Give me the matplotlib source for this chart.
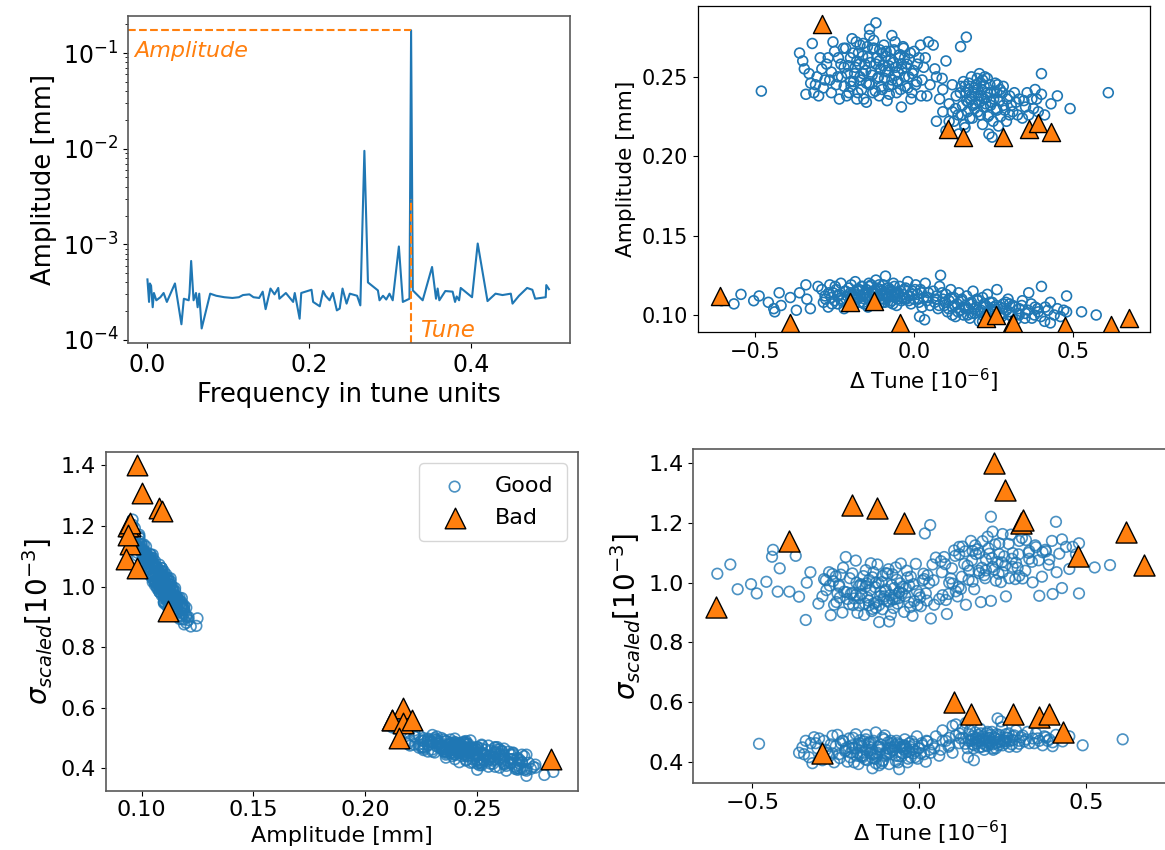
import numpy as np
import matplotlib.pyplot as plt

# ---- spectrum (top left) ----
freq = [0.000, 0.002, 0.003, 0.0045, 0.0065, 0.008, 0.011, 0.016, 0.020, 0.024,
        0.034, 0.042, 0.045, 0.051, 0.052, 0.054, 0.057, 0.060, 0.062, 0.064,
        0.067, 0.0775, 0.085, 0.095, 0.105, 0.113, 0.118, 0.126, 0.131, 0.138,
        0.1424, 0.146, 0.152, 0.157, 0.1616, 0.163, 0.171, 0.180, 0.182, 0.188,
        0.190, 0.2027, 0.2047, 0.2129, 0.217, 0.220, 0.225, 0.229, 0.234, 0.2375,
        0.241, 0.246, 0.250, 0.259, 0.263, 0.268, 0.2724, 0.2847, 0.2867, 0.291,
        0.295, 0.299, 0.303, 0.3106, 0.3155, 0.3237, 0.3257, 0.3278, 0.340, 0.3516,
        0.3565, 0.3585, 0.3606, 0.368, 0.377, 0.380, 0.382, 0.385, 0.387, 0.401,
        0.408, 0.4201, 0.430, 0.4386, 0.4489, 0.451, 0.459, 0.469, 0.4755, 0.479,
        0.492, 0.4927, 0.496]
spec = [4.3, 2.5, 3.9, 3.7, 2.2, 3.1, 2.6, 2.8, 3.1, 2.5,
        3.9, 1.46, 2.7, 2.6, 3.1, 6.7, 2.6, 3.1, 2.2, 3.05,
        1.32, 3.05, 2.9, 2.8, 2.75, 2.8, 2.95, 3.0, 2.8, 2.75,
        3.2, 2.1, 3.45, 3.0, 3.5, 2.7, 3.1, 2.5, 3.1, 1.67,
        3.1, 3.35, 2.5, 2.25, 3.25, 2.9, 2.6, 3.1, 2.04, 2.13,
        3.45, 2.4, 3.05, 2.9, 2.3, 95.0, 4.0, 3.3, 2.6, 2.9,
        2.65, 3.05, 2.6, 9.5, 2.5, 2.7, 1730.0, 3.3, 2.6, 5.8,
        2.7, 3.45, 2.6, 3.25, 3.2, 2.5, 2.85, 2.6, 3.5, 2.8,
        10.2, 2.55, 3.05, 2.95, 3.05, 2.4, 2.9, 3.5, 3.35, 2.7,
        2.8, 3.75, 3.4]  # units of 1e-4 mm

# ---- good BPMs: cluster at large amplitude, left part ----
a1_tune = [-0.48, -0.36, -0.35, -0.34, -0.33, -0.32, -0.31, -0.30, -0.29, -0.28,
           -0.27, -0.26, -0.25, -0.24, -0.235, -0.23, -0.22, -0.215, -0.21, -0.205,
           -0.20, -0.195, -0.19, -0.185, -0.18, -0.175, -0.17, -0.165, -0.16, -0.155,
           -0.15, -0.145, -0.14, -0.135, -0.13, -0.125, -0.12, -0.115, -0.11, -0.105,
           -0.10, -0.095, -0.09, -0.085, -0.08, -0.075, -0.07, -0.065, -0.06, -0.055,
           -0.05, -0.045, -0.04, -0.035, -0.03, -0.025, -0.02, -0.015, -0.01, -0.005,
           0.00, 0.005, 0.01, 0.02, 0.025, 0.035, 0.04, 0.05, 0.06, 0.065,
           0.07, -0.22, -0.18, -0.14, -0.12, -0.10, -0.08, -0.06, -0.04, -0.16,
           -0.20, -0.26, -0.13, -0.09, -0.05, -0.11, -0.17, -0.03, -0.07, -0.15,
           0.10, 0.146, 0.164, 0.088, 0.045]
a1_amp = [0.241, 0.265, 0.260, 0.239, 0.252, 0.271, 0.245, 0.238, 0.255, 0.248,
          0.262, 0.240, 0.266, 0.250, 0.236, 0.258, 0.244, 0.268, 0.252, 0.240,
          0.262, 0.274, 0.247, 0.256, 0.236, 0.265, 0.250, 0.242, 0.271, 0.258,
          0.246, 0.262, 0.276, 0.253, 0.240, 0.268, 0.284, 0.249, 0.260, 0.255,
          0.242, 0.270, 0.263, 0.235, 0.257, 0.266, 0.248, 0.259, 0.272, 0.240,
          0.253, 0.264, 0.231, 0.269, 0.250, 0.256, 0.243, 0.261, 0.236, 0.252,
          0.266, 0.245, 0.258, 0.270, 0.248, 0.262, 0.238, 0.245, 0.270, 0.255,
          0.250, 0.256, 0.260, 0.245, 0.258, 0.265, 0.244, 0.251, 0.258, 0.252,
          0.247, 0.253, 0.268, 0.254, 0.247, 0.238, 0.270, 0.262, 0.276, 0.234,
          0.260, 0.269, 0.275, 0.249, 0.272]
a1_sigma = [0.460, 0.430, 0.448, 0.470, 0.415, 0.395, 0.462, 0.478, 0.405, 0.440,
            0.418, 0.487, 0.452, 0.425, 0.462, 0.470, 0.445, 0.400, 0.478, 0.430,
            0.445, 0.398, 0.492, 0.430, 0.455, 0.418, 0.415, 0.468, 0.440, 0.405,
            0.450, 0.465, 0.412, 0.425, 0.498, 0.430, 0.388, 0.458, 0.402, 0.475,
            0.420, 0.445, 0.392, 0.470, 0.438, 0.450, 0.420, 0.462, 0.375, 0.448,
            0.428, 0.455, 0.452, 0.398, 0.462, 0.415, 0.440, 0.458, 0.435, 0.410,
            0.445, 0.428, 0.455, 0.400, 0.468, 0.430, 0.458, 0.485, 0.420, 0.440,
            0.470, 0.438, 0.462, 0.425, 0.450, 0.430, 0.462, 0.418, 0.445, 0.475,
            0.455, 0.428, 0.395, 0.442, 0.452, 0.480, 0.420, 0.435, 0.402, 0.465,
            0.430, 0.415, 0.405, 0.450, 0.445]
# more points of the same core: (tune, amplitude, sigma)
a1_core = [(-0.245, 0.245, 0.490), (-0.238, 0.262, 0.412), (-0.228, 0.250, 0.470),
           (-0.222, 0.268, 0.435), (-0.212, 0.238, 0.450), (-0.207, 0.257, 0.415),
           (-0.198, 0.244, 0.480), (-0.192, 0.265, 0.445), (-0.187, 0.252, 0.420),
           (-0.182, 0.272, 0.392), (-0.177, 0.240, 0.472), (-0.172, 0.258, 0.452),
           (-0.168, 0.248, 0.430), (-0.162, 0.263, 0.408), (-0.158, 0.236, 0.490),
           (-0.152, 0.254, 0.462), (-0.147, 0.269, 0.428), (-0.142, 0.246, 0.440),
           (-0.137, 0.259, 0.470), (-0.132, 0.251, 0.410), (-0.127, 0.273, 0.418),
           (-0.122, 0.241, 0.452), (-0.117, 0.262, 0.440), (-0.112, 0.250, 0.395),
           (-0.108, 0.267, 0.405), (-0.103, 0.244, 0.488), (-0.098, 0.257, 0.425),
           (-0.093, 0.249, 0.465), (-0.088, 0.266, 0.430), (-0.083, 0.253, 0.448),
           (-0.078, 0.239, 0.440), (-0.073, 0.261, 0.455), (-0.068, 0.245, 0.470),
           (-0.063, 0.267, 0.398), (-0.058, 0.256, 0.458), (-0.053, 0.247, 0.418),
           (-0.048, 0.262, 0.442), (-0.043, 0.242, 0.475), (-0.038, 0.255, 0.432),
           (-0.033, 0.268, 0.410), (-0.028, 0.244, 0.450), (-0.022, 0.258, 0.468),
           (-0.017, 0.250, 0.428), (-0.012, 0.265, 0.415), (-0.007, 0.240, 0.485),
           (-0.002, 0.254, 0.445), (0.008, 0.247, 0.462), (0.015, 0.262, 0.425),
           (0.022, 0.238, 0.470), (0.030, 0.256, 0.440), (-0.265, 0.248, 0.458),
           (-0.275, 0.258, 0.430), (-0.285, 0.243, 0.470), (-0.295, 0.262, 0.415),
           (-0.305, 0.250, 0.445), (-0.315, 0.240, 0.482), (-0.325, 0.246, 0.462),
           (-0.345, 0.255, 0.425), (-0.255, 0.272, 0.398), (-0.140, 0.280, 0.378)]

# ---- good BPMs: cluster at large amplitude, right part ----
a2_tune = [0.07, 0.08, 0.09, 0.10, 0.11, 0.12, 0.125, 0.13, 0.14, 0.145,
           0.15, 0.155, 0.16, 0.165, 0.17, 0.175, 0.18, 0.185, 0.19, 0.195,
           0.20, 0.205, 0.21, 0.215, 0.22, 0.225, 0.23, 0.235, 0.24, 0.245,
           0.25, 0.255, 0.26, 0.265, 0.27, 0.28, 0.29, 0.30, 0.31, 0.32,
           0.33, 0.34, 0.35, 0.36, 0.37, 0.38, 0.39, 0.40, 0.40, 0.41,
           0.43, 0.45, 0.49, 0.61, 0.18, 0.20, 0.21, 0.22, 0.19, 0.23,
           0.17, 0.24, 0.26, 0.16, 0.205, 0.215, 0.28, 0.30, 0.12, 0.09]
a2_amp = [0.222, 0.236, 0.228, 0.216, 0.233, 0.245, 0.222, 0.230, 0.214, 0.240,
          0.226, 0.247, 0.218, 0.235, 0.242, 0.224, 0.250, 0.232, 0.240, 0.245,
          0.228, 0.252, 0.238, 0.220, 0.244, 0.233, 0.249, 0.226, 0.240, 0.212,
          0.236, 0.246, 0.229, 0.219, 0.242, 0.232, 0.222, 0.238, 0.228, 0.234,
          0.236, 0.224, 0.231, 0.226, 0.236, 0.242, 0.228, 0.252, 0.239, 0.226,
          0.233, 0.238, 0.230, 0.240, 0.238, 0.242, 0.246, 0.236, 0.230, 0.240,
          0.234, 0.232, 0.240, 0.244, 0.234, 0.248, 0.244, 0.226, 0.228, 0.242]
a2_sigma = [0.505, 0.470, 0.455, 0.520, 0.488, 0.462, 0.478, 0.510, 0.530, 0.445,
            0.492, 0.470, 0.485, 0.455, 0.482, 0.468, 0.448, 0.495, 0.462, 0.440,
            0.478, 0.452, 0.470, 0.490, 0.458, 0.482, 0.445, 0.465, 0.475, 0.535,
            0.455, 0.468, 0.492, 0.480, 0.450, 0.472, 0.505, 0.460, 0.488, 0.475,
            0.462, 0.478, 0.495, 0.470, 0.455, 0.482, 0.475, 0.465, 0.452, 0.490,
            0.468, 0.485, 0.455, 0.475, 0.470, 0.455, 0.480, 0.445, 0.485, 0.462,
            0.475, 0.490, 0.470, 0.458, 0.500, 0.465, 0.485, 0.470, 0.495, 0.480]
a2_core = [(0.132, 0.238, 0.480), (0.138, 0.226, 0.460), (0.148, 0.244, 0.470),
           (0.152, 0.232, 0.505), (0.158, 0.220, 0.475), (0.163, 0.240, 0.445),
           (0.168, 0.228, 0.498), (0.172, 0.246, 0.462), (0.178, 0.236, 0.490),
           (0.183, 0.224, 0.510), (0.188, 0.243, 0.450), (0.193, 0.233, 0.472),
           (0.198, 0.249, 0.468), (0.202, 0.238, 0.495), (0.208, 0.226, 0.480),
           (0.212, 0.242, 0.460), (0.218, 0.231, 0.500), (0.222, 0.250, 0.440),
           (0.228, 0.237, 0.478), (0.232, 0.225, 0.492), (0.238, 0.245, 0.455),
           (0.242, 0.234, 0.468), (0.248, 0.222, 0.515), (0.252, 0.241, 0.472),
           (0.258, 0.230, 0.462), (0.262, 0.245, 0.480), (0.268, 0.235, 0.495),
           (0.272, 0.225, 0.470), (0.278, 0.240, 0.458), (0.285, 0.229, 0.488),
           (0.292, 0.236, 0.450), (0.305, 0.232, 0.482), (0.315, 0.240, 0.468),
           (0.325, 0.226, 0.500), (0.345, 0.235, 0.462), (0.355, 0.240, 0.478),
           (0.375, 0.230, 0.485), (0.385, 0.236, 0.470), (0.110, 0.222, 0.525),
           (0.235, 0.214, 0.545)]

# ---- good BPMs: cluster at small amplitude ----
b_tune = [-0.605, -0.566, -0.544, -0.504, -0.487, -0.458, -0.441, -0.438, -0.424, -0.418,
          -0.389, -0.370, -0.360, -0.340, -0.337, -0.326, -0.302,
          -0.29, -0.285, -0.28, -0.27, -0.265, -0.26, -0.255, -0.25, -0.245, -0.24,
          -0.235, -0.23, -0.225, -0.22, -0.215, -0.21, -0.205, -0.2, -0.195, -0.19,
          -0.185, -0.18, -0.175, -0.17, -0.165, -0.16, -0.155, -0.15, -0.145, -0.14,
          -0.135, -0.13, -0.125, -0.12, -0.115, -0.11, -0.105, -0.1, -0.095, -0.09,
          -0.085, -0.08, -0.075, -0.07, -0.065, -0.06, -0.055, -0.05, -0.045, -0.04,
          -0.035, -0.03, -0.025, -0.02, -0.015, -0.01, -0.005, 0.0, 0.005, 0.01,
          0.015, 0.02, 0.025, 0.03, 0.035, 0.04, 0.045, 0.05,
          -0.2, -0.15, -0.12, -0.1, -0.08, -0.06, -0.14, -0.18, -0.24, -0.03,
          -0.11, -0.07, -0.16, -0.19, -0.09, -0.13,
          0.06, 0.065, 0.07, 0.075, 0.08, 0.083, 0.09, 0.095, 0.1, 0.105,
          0.11, 0.115, 0.12, 0.125, 0.13, 0.135, 0.14, 0.145, 0.15, 0.155,
          0.16, 0.165, 0.17, 0.175, 0.18, 0.185, 0.19, 0.195, 0.2, 0.205,
          0.21, 0.215, 0.22, 0.225, 0.23, 0.235, 0.24, 0.245, 0.25, 0.255,
          0.26, 0.27, 0.275, 0.28, 0.29, 0.295, 0.3, 0.31, 0.32, 0.33,
          0.34, 0.35, 0.36, 0.37, 0.38, 0.39, 0.4, 0.41, 0.42, 0.428,
          0.428, 0.44, 0.45,
          0.2, 0.22, 0.25, 0.18, 0.28, 0.3, 0.16, 0.24, 0.33, 0.12,
          0.479, 0.479, 0.526, 0.572, 0.47, 0.46, 0.033, 0.017, 0.215]
b_amp = [0.109, 0.107, 0.113, 0.109, 0.112, 0.108, 0.104, 0.102, 0.114, 0.106,
         0.111, 0.103, 0.114, 0.119, 0.110, 0.104, 0.118,
         0.116, 0.108, 0.112, 0.105, 0.119, 0.111, 0.114, 0.109, 0.116, 0.107,
         0.113, 0.120, 0.110, 0.104, 0.115, 0.112, 0.117, 0.109, 0.113, 0.106,
         0.121, 0.111, 0.115, 0.108, 0.118, 0.113, 0.110, 0.116, 0.105, 0.112,
         0.119, 0.114, 0.109, 0.122, 0.111, 0.107, 0.116, 0.113, 0.110, 0.1245,
         0.117, 0.112, 0.108, 0.115, 0.120, 0.111, 0.106, 0.114, 0.118, 0.109,
         0.113, 0.116, 0.110, 0.121, 0.112, 0.107, 0.115, 0.110, 0.119, 0.113,
         0.108, 0.116, 0.105, 0.111, 0.120, 0.109, 0.114, 0.106,
         0.114, 0.111, 0.115, 0.108, 0.117, 0.113, 0.118, 0.116, 0.112, 0.110,
         0.119, 0.109, 0.108, 0.111, 0.114, 0.110,
         0.115, 0.108, 0.112, 0.104, 0.118, 0.125, 0.110, 0.106, 0.113, 0.102,
         0.109, 0.116, 0.105, 0.111, 0.099, 0.107, 0.114, 0.103, 0.110, 0.100,
         0.106, 0.112, 0.104, 0.098, 0.108, 0.115, 0.101, 0.105, 0.109, 0.096,
         0.103, 0.111, 0.099, 0.106, 0.113, 0.101, 0.104, 0.108, 0.097, 0.102,
         0.116, 0.105, 0.099, 0.107, 0.103, 0.110, 0.100, 0.106, 0.097, 0.104,
         0.109, 0.101, 0.114, 0.098, 0.105, 0.102, 0.118, 0.096, 0.103, 0.108,
         0.095, 0.100, 0.104,
         0.103, 0.107, 0.105, 0.101, 0.101, 0.107, 0.104, 0.098, 0.100, 0.100,
         0.112, 0.102, 0.102, 0.100, 0.103, 0.099, 0.097, 0.099, 0.096]
b_sigma = [1.030, 1.061, 0.978, 0.995, 0.964, 1.003, 1.087, 1.110, 0.970, 1.048,
           0.970, 1.090, 0.953, 0.875, 1.000, 1.035, 0.930,
           0.954, 1.012, 1.008, 1.035, 0.891, 1.029, 0.926, 1.021, 0.964, 0.993,
           1.027, 0.900, 0.970, 1.086, 0.945, 0.928, 0.963, 1.031, 0.947, 1.074,
           0.899, 0.989, 0.995, 0.992, 0.892, 0.987, 0.950, 0.924, 1.065, 1.018,
           0.931, 0.916, 1.061, 0.868, 0.969, 1.023, 0.954, 0.977, 1.030, 0.870,
           0.893, 1.028, 0.982, 0.955, 0.930, 0.969, 1.064, 0.986, 0.902, 0.981,
           1.017, 0.934, 1.020, 0.889, 0.938, 1.063, 0.925, 0.960, 0.921, 1.007,
           1.012, 0.964, 1.025, 0.999, 0.880, 1.061, 0.926, 1.084,
           0.966, 1.009, 0.925, 1.032, 0.943, 0.967, 0.912, 0.924, 0.988, 0.990,
           0.911, 1.051, 1.042, 0.959, 0.936, 1.000,
           0.945, 1.072, 0.958, 1.086, 0.942, 0.895, 1.000, 1.014, 0.997, 1.108,
           0.971, 0.954, 1.095, 0.979, 1.121, 1.063, 0.926, 1.057, 1.040, 1.140,
           1.004, 0.978, 1.096, 1.112, 1.032, 0.935, 1.139, 1.025, 1.041, 1.154,
           1.097, 0.939, 1.171, 1.044, 1.007, 1.069, 1.096, 1.002, 1.163, 1.088,
           0.954, 1.015, 1.161, 1.053, 1.067, 1.050, 1.140, 1.014, 1.143, 1.106,
           1.001, 1.119, 0.956, 1.102, 1.105, 1.078, 0.962, 1.204, 1.097, 0.982,
           1.145, 1.120, 1.046,
           1.077, 1.053, 1.035, 1.099, 1.099, 1.023, 1.106, 1.132, 1.080, 1.120,
           0.964, 1.132, 1.051, 1.059, 1.095, 1.120, 1.193, 1.165, 1.221]
b_core = [(-0.278, 0.110, 0.975), (-0.268, 0.114, 0.990), (-0.258, 0.107, 1.005),
          (-0.248, 0.118, 0.935), (-0.238, 0.112, 0.950), (-0.228, 0.109, 1.050),
          (-0.218, 0.115, 0.968), (-0.208, 0.106, 1.015), (-0.198, 0.119, 0.925),
          (-0.188, 0.113, 1.000), (-0.178, 0.110, 0.948), (-0.172, 0.116, 0.962),
          (-0.167, 0.112, 1.022), (-0.162, 0.118, 0.930), (-0.157, 0.107, 0.998),
          (-0.152, 0.114, 0.940), (-0.147, 0.111, 0.975), (-0.142, 0.120, 0.905),
          (-0.137, 0.109, 1.035), (-0.132, 0.115, 0.985), (-0.127, 0.113, 0.935),
          (-0.122, 0.108, 0.998), (-0.117, 0.117, 0.955), (-0.112, 0.112, 1.002),
          (-0.107, 0.110, 0.945), (-0.102, 0.115, 0.972), (-0.097, 0.119, 0.938),
          (-0.092, 0.108, 1.045), (-0.087, 0.113, 0.958), (-0.082, 0.111, 0.992),
          (-0.077, 0.116, 0.915), (-0.072, 0.112, 0.945), (-0.067, 0.107, 1.010),
          (-0.062, 0.118, 0.948), (-0.057, 0.114, 0.998), (-0.052, 0.110, 0.965),
          (-0.042, 0.115, 0.955), (-0.037, 0.111, 1.040), (-0.027, 0.117, 0.918),
          (-0.017, 0.109, 0.995), (-0.007, 0.113, 0.972), (0.003, 0.116, 0.950),
          (0.013, 0.110, 1.030), (0.023, 0.114, 0.940), (0.043, 0.111, 1.008),
          (0.068, 0.110, 1.035), (0.078, 0.106, 1.062), (0.088, 0.114, 0.962),
          (0.098, 0.108, 1.048), (0.108, 0.104, 1.090), (0.118, 0.111, 0.985),
          (0.128, 0.106, 1.020), (0.138, 0.102, 1.105), (0.148, 0.109, 1.010),
          (0.158, 0.105, 1.075), (0.168, 0.100, 1.125), (0.178, 0.107, 1.040),
          (0.188, 0.104, 1.050), (0.198, 0.110, 1.015), (0.208, 0.102, 1.115),
          (0.218, 0.105, 1.082), (0.228, 0.099, 1.128), (0.238, 0.108, 1.030),
          (0.248, 0.103, 1.068), (0.258, 0.106, 1.058), (0.268, 0.100, 1.130),
          (0.278, 0.104, 1.080), (0.288, 0.108, 1.012), (0.298, 0.102, 1.095),
          (0.308, 0.099, 1.150), (0.318, 0.105, 1.040), (0.328, 0.101, 1.100),
          (0.338, 0.106, 1.070), (0.348, 0.098, 1.125), (0.358, 0.103, 1.075),
          (0.368, 0.107, 1.020), (0.378, 0.100, 1.110), (0.388, 0.104, 1.060),
          (0.398, 0.099, 1.140), (0.412, 0.105, 1.035)]

# ---- bad BPMs ----
bad_tune = [-0.61, -0.39, -0.20, -0.125, -0.045, 0.225, 0.258, 0.305, 0.31, 0.475,
            0.62, 0.675, -0.29, 0.105, 0.155, 0.28, 0.36, 0.39, 0.43]
bad_amp = [0.112, 0.095, 0.108, 0.109, 0.095, 0.098, 0.100, 0.094, 0.095, 0.093,
           0.094, 0.098, 0.283, 0.217, 0.212, 0.212, 0.217, 0.221, 0.215]
bad_sigma = [0.92, 1.14, 1.26, 1.25, 1.20, 1.40, 1.31, 1.20, 1.21, 1.09,
             1.17, 1.06, 0.43, 0.60, 0.56, 0.56, 0.55, 0.56, 0.50]

core = np.array(a1_core + a2_core + b_core)
good_tune = np.concatenate([a1_tune, a2_tune, b_tune, core[:, 0]])
good_amp = np.concatenate([a1_amp, a2_amp, b_amp, core[:, 1]])
good_sigma = np.concatenate([a1_sigma, a2_sigma, b_sigma, core[:, 2]])

W, H = 1165, 850
fig = plt.figure(figsize=(W / 100, H / 100), dpi=100)


def px_axes(left, top, right, bottom):
    return fig.add_axes([left / W, 1 - bottom / H, (right - left) / W, (bottom - top) / H])


def style(ax, color, lw):
    for sp in ax.spines.values():
        sp.set_color(color)
        sp.set_linewidth(lw)


good_kw = dict(facecolors='none', edgecolors='#1f77b4', linewidths=1.2)
bad_kw = dict(marker='^', color='#ff7f0e', edgecolors='black', linewidths=1.0)

# top left: spectrum
ax1 = px_axes(128, 16, 570, 343)
spec_mm = np.array(spec) * 1e-4
ax1.semilogy(freq, spec_mm, color='#1f77b4', lw=1.5)
ax1.set_xlim(-0.024, 0.522)
ax1.set_ylim(0.93e-4, 0.244)
ipk = int(np.argmax(spec_mm))
tune_f, peak = freq[ipk], spec_mm[ipk]
ax1.plot([-0.024, tune_f], [peak, peak], '--', color='#ff7f0e', lw=1.5)
ax1.plot([tune_f, tune_f], [0.93e-4, 3e-3], '--', color='#ff7f0e', lw=1.5)
ax1.text(-0.016, 0.104, 'Amplitude', color='#ff7f0e', style='italic', fontsize=16, va='center')
ax1.text(tune_f + 0.011, 1.27e-4, 'Tune', color='#ff7f0e', style='italic', fontsize=16.5, va='center')
ax1.set_xticks([0.0, 0.2, 0.4])
ax1.tick_params(labelsize=17)
ax1.set_xlabel('Frequency in tune units', fontsize=18.5)
ax1.set_ylabel('Amplitude [mm]', fontsize=18.5)
style(ax1, '0.35', 1.2)

# top right: amplitude vs tune
ax2 = px_axes(698, 6, 1150, 332)
ax2.scatter(good_tune, good_amp, s=50, **good_kw)
ax2.scatter(bad_tune, bad_amp, s=170, **bad_kw)
ax2.set_xlim(-0.679, 0.741)
ax2.set_ylim(0.0893, 0.2946)
ax2.set_xticks([-0.5, 0.0, 0.5])
ax2.set_yticks([0.10, 0.15, 0.20, 0.25])
ax2.tick_params(labelsize=15)
ax2.set_xlabel('Δ Tune [$10^{-6}$]', fontsize=15.5)
ax2.set_ylabel('Amplitude [mm]', fontsize=15.5)
style(ax2, 'black', 0.9)

# bottom left: sigma vs amplitude
ax3 = px_axes(105.5, 452, 577.7, 790.7)
ax3.scatter(good_amp, good_sigma, s=58, alpha=0.8, label='Good', **good_kw)
ax3.scatter(bad_amp, bad_sigma, s=220, label='Bad', **bad_kw)
ax3.set_xlim(0.0839, 0.2949)
ax3.set_ylim(0.326, 1.444)
ax3.set_xticks([0.10, 0.15, 0.20, 0.25])
ax3.set_yticks([0.4, 0.6, 0.8, 1.0, 1.2, 1.4])
ax3.tick_params(labelsize=16)
ax3.set_xlabel('Amplitude [mm]', fontsize=16)
ax3.set_ylabel(r'$\sigma_{scaled}[10^{-3}]$', fontsize=20)
ax3.legend(loc='upper right', fontsize=16, borderpad=0.6)
style(ax3, '0.35', 1.2)

# bottom right: sigma vs tune
ax4 = px_axes(693.3, 449.3, 1166.4, 783.3)
ax4.scatter(good_tune, good_sigma, s=58, alpha=0.8, **good_kw)
ax4.scatter(bad_tune, bad_sigma, s=230, **bad_kw)
ax4.set_xlim(-0.677, 0.741)
ax4.set_ylim(0.3276, 1.447)
ax4.set_xticks([-0.5, 0.0, 0.5])
ax4.set_yticks([0.4, 0.6, 0.8, 1.0, 1.2, 1.4])
ax4.tick_params(labelsize=16)
ax4.set_xlabel('Δ Tune [$10^{-6}$]', fontsize=16)
ax4.set_ylabel(r'$\sigma_{scaled}[10^{-3}]$', fontsize=20)
style(ax4, '0.35', 1.2)

fig.savefig('out.png', dpi=100)
